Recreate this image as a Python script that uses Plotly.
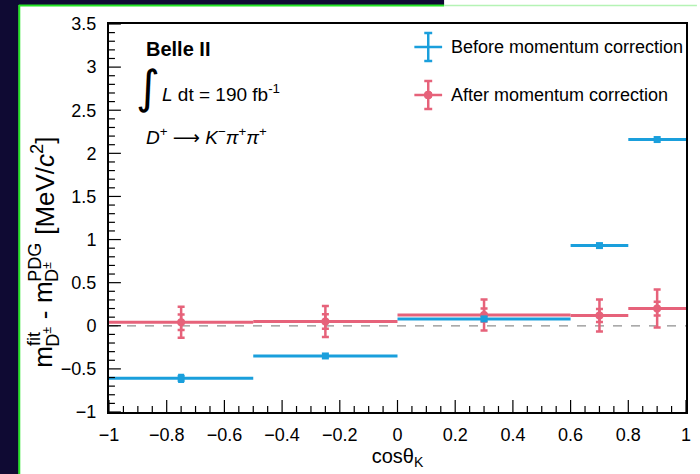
import plotly.graph_objects as go

# cos(theta_K) bins
bin_lo = [-1.0, -0.5, 0.0, 0.6, 0.8]
bin_hi = [-0.5, 0.0, 0.6, 0.8, 1.0]
bin_centers = [(a + b) / 2 for a, b in zip(bin_lo, bin_hi)]
bin_halfwidths = [(b - a) / 2 for a, b in zip(bin_lo, bin_hi)]

# fitted minus PDG mass [MeV/c^2]
before_vals = [-0.61, -0.35, 0.08, 0.93, 2.16]
before_err = [0.04, 0.01, 0.015, 0.015, 0.02]
after_vals = [0.04, 0.05, 0.125, 0.12, 0.20]
after_err_total = [0.18, 0.18, 0.18, 0.185, 0.22]
after_err_stat = [0.09, 0.085, 0.075, 0.075, 0.08]

# axis ranges and tick spacing
x_range, x_dtick, x_minor = [-1, 1], 0.2, 0.05
y_range, y_dtick, y_minor = [-1, 3.5], 0.5, 0.1

BLUE = "#1a9fdc"
RED = "#e6627a"
NAVY = "#0f0a33"
FONT = "Liberation Sans, Arial, Helvetica, sans-serif"

W, H = 700, 474
ML, MR, MT, MB = 109, 9, 24, 62
PW, PH = W - ML - MR, H - MT - MB
MAJOR_LEN, MINOR_LEN = 12, 6


def px(x, y):
    """Pixel position on the canvas -> paper coordinates."""
    return (x - ML) / PW, (H - MB - y) / PH


def tick_values(rng, step):
    n = int(round((rng[1] - rng[0]) / step))
    return [round(rng[0] + i * step, 6) for i in range(n + 1)]


fig = go.Figure()

# after correction: total and statistical uncertainties
fig.add_trace(go.Scatter(
    x=bin_centers, y=after_vals, mode="markers",
    marker=dict(symbol="circle", size=8, color=RED),
    error_x=dict(type="data", array=bin_halfwidths, thickness=3, width=0, color=RED),
    error_y=dict(type="data", array=after_err_total, thickness=2.5, width=3.5, color=RED),
    showlegend=False,
))
fig.add_trace(go.Scatter(
    x=bin_centers, y=after_vals, mode="markers",
    marker=dict(size=1, color=RED),
    error_y=dict(type="data", array=after_err_stat, thickness=2.5, width=3.5, color=RED),
    showlegend=False,
))
# before correction
fig.add_trace(go.Scatter(
    x=bin_centers, y=before_vals, mode="markers",
    marker=dict(symbol="square", size=7, color=BLUE),
    error_x=dict(type="data", array=bin_halfwidths, thickness=3, width=0, color=BLUE),
    error_y=dict(type="data", array=before_err, thickness=2.5, width=3, color=BLUE),
    showlegend=False,
))

shapes = []


def rect(xa, ya, xb, yb, color):
    p, q = px(xa, ya)
    r, s = px(xb, yb)
    shapes.append(dict(type="rect", xref="paper", yref="paper", x0=p, y0=s, x1=r, y1=q,
                       fillcolor=color, line=dict(width=0), layer="below"))


def seg(xa, ya, xb, yb, color, width=2.5, layer="above"):
    p, q = px(xa, ya)
    r, s = px(xb, yb)
    shapes.append(dict(type="line", xref="paper", yref="paper", x0=p, y0=q, x1=r, y1=s,
                       line=dict(color=color, width=width), layer=layer))


# dark outer frame around the white canvas
rect(-2, -2, 18, H + 2, NAVY)
rect(-2, -2, 447, 5, NAVY)
seg(18.5, 5, 18.5, H + 2, "#24e424", 2, "below")
seg(18, 5.5, 447, 5.5, "#24e424", 2, "below")
seg(447, 5.5, W + 2, 5.5, "#b5f3b5", 1.5, "below")

# zero reference line
shapes.append(dict(type="line", xref="x", yref="y", x0=x_range[0], x1=x_range[1], y0=0, y1=0,
                   line=dict(color="#8f8f8f", width=1.2, dash="dash"), layer="below"))

# inward tick marks on the bottom and left axes
x_major = tick_values(x_range, x_dtick)
y_major = tick_values(y_range, y_dtick)
for v in tick_values(x_range, x_minor):
    ln = MAJOR_LEN if v in x_major else MINOR_LEN
    shapes.append(dict(type="line", xref="x", yref="paper", x0=v, x1=v, y0=0, y1=ln / PH,
                       line=dict(color="black", width=1.2)))
for v in tick_values(y_range, y_minor):
    ln = MAJOR_LEN if v in y_major else MINOR_LEN
    shapes.append(dict(type="line", xref="paper", yref="y", x0=0, x1=ln / PW, y0=v, y1=v,
                       line=dict(color="black", width=1.2)))

# legend keys
for cy, col, dot in [(47, BLUE, False), (95, RED, True)]:
    seg(417, cy, 445, cy, col)
    seg(431, cy - 14, 431, cy + 14, col)
    seg(427, cy - 14, 435, cy - 14, col)
    seg(427, cy + 14, 435, cy + 14, col)
    if dot:
        p, q = px(427, cy - 4)
        r, s = px(435, cy + 4)
        shapes.append(dict(type="circle", xref="paper", yref="paper", x0=p, y0=q, x1=r, y1=s,
                           fillcolor=col, line=dict(color=col, width=1)))

annotations = []


def text(x, y, s, size, xanchor="left", angle=0, family=FONT, color="black"):
    p, q = px(x, y)
    annotations.append(dict(xref="paper", yref="paper", x=p, y=q, text=s, showarrow=False,
                            xanchor=xanchor, yanchor="middle", textangle=angle,
                            font=dict(family=family, size=size, color=color)))


text(452, 47, "Before momentum correction", 18)
text(452, 95, "After momentum correction", 18)

text(144, 49, "<b>Belle II</b>", 20)
text(148, 87, "∫", 46, xanchor="center", family="DejaVu Sans")
text(160, 93, "<i>L</i> dt = 190 fb<sup>-1</sup>", 19)
text(144, 136, "<i>D</i><sup>+</sup> <span style='font-family:DejaVu Sans'>⟶</span> "
               "<i>K</i><sup>−</sup><i>π</i><sup>+</sup><i>π</i><sup>+</sup>", 19)

# y-axis title built from rotated pieces so the scripts stack
MAIN, SCR = 26, 18
XM, XSUP, XSUB = 43, 34, 51
cur = 368
pieces = [
    ("m", MAIN, XM, 0.833 * MAIN),
    (("fit", "D<sup>±</sup>"), SCR, None, 20.0),
    ("gap", 0, None, 0.278 * MAIN),
    ("-", MAIN, XM, 0.333 * MAIN),
    ("gap", 0, None, 0.278 * MAIN),
    ("m", MAIN, XM, 0.833 * MAIN),
    (("PDG", "D<sup>±</sup>"), SCR, None, 2.167 * SCR),
    ("gap", 0, None, 0.278 * MAIN),
    ("[MeV/<i>c</i><sup>2</sup>]", MAIN, XM, 3.39 * MAIN + 10),
]
for s, size, xc, adv in pieces:
    if s == "gap":
        cur -= adv
        continue
    if isinstance(s, tuple):
        sup, sub = s
        sup_w = 0.278 * SCR * 2.8 if sup == "fit" else 2.167 * SCR
        text(XSUP, cur - sup_w / 2, sup, SCR, xanchor="center", angle=-90)
        text(XSUB, cur - 10, sub, SCR, xanchor="center", angle=-90)
    else:
        text(xc, cur - adv / 2, s, size, xanchor="center", angle=-90)
    cur -= adv

fig.update_layout(
    width=W, height=H,
    margin=dict(l=ML, r=MR, t=MT, b=MB, pad=0),
    paper_bgcolor="white",
    plot_bgcolor="white",
    font=dict(family=FONT, size=18, color="black"),
    shapes=shapes,
    annotations=annotations,
    showlegend=False,
)

axis_common = dict(
    showgrid=False, zeroline=False, showline=True, linecolor="black", linewidth=2,
    mirror=True, ticks="", tickmode="linear",
    tickfont=dict(family=FONT, size=18, color="black"),
)
fig.update_xaxes(
    range=x_range, tick0=x_range[0], dtick=x_dtick,
    title=dict(text="cosθ<sub>K</sub>", font=dict(family=FONT, size=20), standoff=4),
    ticklabelstandoff=5,
    **axis_common,
)
fig.update_yaxes(
    range=y_range, tick0=y_range[0], dtick=y_dtick,
    ticklabelstandoff=7,
    **axis_common,
)

fig.write_html("out.html")
